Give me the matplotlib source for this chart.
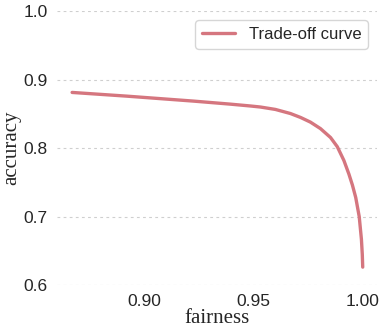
import numpy as np
import matplotlib
matplotlib.use("Agg")
import matplotlib.pyplot as plt
import seaborn as sns

# values
fairness = [0.8672, 0.8921, 0.9228, 0.9395, 0.9487, 0.9532, 0.9600, 0.9669,
            0.9715, 0.9760, 0.9806, 0.9852, 0.9883, 0.9913, 0.9936, 0.9952,
            0.9967, 0.9983, 0.9993, 0.9997, 0.9999]
accuracy = [0.8813, 0.8759, 0.8686, 0.8642, 0.8615, 0.8600, 0.8565, 0.8505,
            0.8448, 0.8380, 0.8285, 0.8155, 0.8020, 0.7820, 0.7620, 0.7460,
            0.7280, 0.7000, 0.6670, 0.6450, 0.6263]

yticks = [0.6, 0.7, 0.8, 0.9, 1.0]
xticks = [0.90, 0.95, 1.00]

sns.set_style("whitegrid")
plt.rcParams['font.family'] = ['Liberation Sans', 'DejaVu Sans']

fig = plt.figure(figsize=(3.8, 3.27), dpi=100)
ax = fig.add_axes([0.15, 0.128, 0.842, 0.838])

ax.plot(fairness, accuracy, color='#d5767f', lw=2.4, label='Trade-off curve',
        solid_joinstyle='round')

ax.set_xlim(0.8603, 1.0064)
ax.set_ylim(0.6, 1.0)
ax.set_xticks(xticks)
ax.set_xticklabels(['%.2f' % t for t in xticks])
ax.set_yticks(yticks)
ax.set_yticklabels(['%.1f' % t for t in yticks])
ax.tick_params(labelsize=12.5, colors='#262626', pad=3)

ax.grid(axis='x', visible=False)
ax.grid(axis='y', color='#cfcfcf', linestyle=(0, (2.5, 3)), lw=0.8)
for s in ax.spines.values():
    s.set_visible(False)

ax.set_xlabel('fairness', family='Liberation Serif', fontsize=15, labelpad=0)
ax.set_ylabel('accuracy', family='Liberation Serif', fontsize=15, labelpad=2)

ax.legend(loc='upper right', fontsize=12, frameon=True, borderaxespad=0.55)

fig.savefig('out.png', dpi=100)
